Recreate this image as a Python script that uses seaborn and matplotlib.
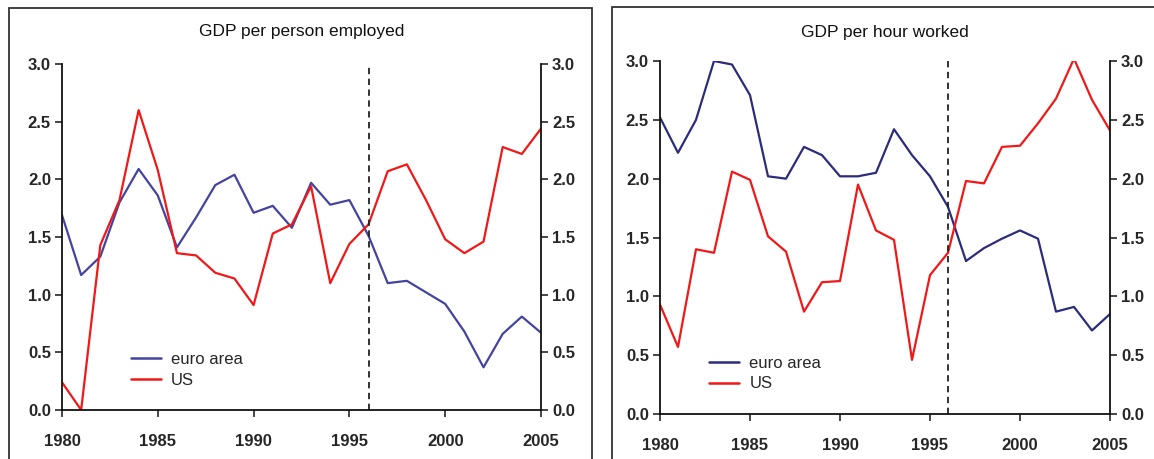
import numpy as np
import pandas as pd
import matplotlib
matplotlib.use("Agg")
import matplotlib.pyplot as plt
import seaborn as sns
from matplotlib.patches import Rectangle

# Annual growth, %
years = list(range(1980, 2006))

person_euro = [1.69, 1.17, 1.33, 1.80, 2.09, 1.86, 1.41, 1.67, 1.95, 2.04,
               1.71, 1.77, 1.58, 1.97, 1.78, 1.82, 1.51, 1.10, 1.12, 1.02,
               0.92, 0.68, 0.37, 0.66, 0.81, 0.67]
person_us = [0.24, 0.00, 1.43, 1.82, 2.60, 2.08, 1.36, 1.34, 1.19, 1.14,
             0.91, 1.53, 1.61, 1.94, 1.10, 1.44, 1.61, 2.07, 2.13, 1.82,
             1.48, 1.36, 1.46, 2.28, 2.22, 2.44]

hour_euro = [2.52, 2.22, 2.50, 3.00, 2.97, 2.71, 2.02, 2.00, 2.27, 2.20,
             2.02, 2.02, 2.05, 2.42, 2.20, 2.02, 1.76, 1.30, 1.41, 1.49,
             1.56, 1.49, 0.87, 0.91, 0.71, 0.85]
hour_us = [0.93, 0.57, 1.40, 1.37, 2.06, 1.99, 1.51, 1.38, 0.87, 1.12,
           1.13, 1.95, 1.56, 1.48, 0.46, 1.18, 1.37, 1.98, 1.96, 2.27,
           2.28, 2.47, 2.68, 3.02, 2.67, 2.41]

series_names = ["euro area", "US"]
panel_titles = ["GDP per person employed", "GDP per hour worked"]
break_year = 1996
y_ticks = [0.0, 0.5, 1.0, 1.5, 2.0, 2.5, 3.0]
x_ticks = [1980, 1985, 1990, 1995, 2000, 2005]

palettes = [
    {"euro area": "#4444a0", "US": "#f01818"},
    {"euro area": "#2c2c7c", "US": "#f01818"},
]

sns.set_style("white")
plt.rcParams["font.family"] = ["Liberation Sans Narrow", "Liberation Sans", "DejaVu Sans"]


def make_frame(euro, us):
    return pd.DataFrame({
        "year": years * 2,
        "value": euro + us,
        "series": ["euro area"] * len(years) + ["US"] * len(years),
    })


fig = plt.figure(figsize=(11.54, 4.59), dpi=100)

# panel frames
fig.add_artist(Rectangle((9 / 1154, -0.05), (592 - 9) / 1154, 1.05 - 8 / 459,
                         transform=fig.transFigure, fill=False, lw=1.3, ec="#333333"))
fig.add_artist(Rectangle((612 / 1154, -0.05), 0.6, 1.05 - 7 / 459,
                         transform=fig.transFigure, fill=False, lw=1.3, ec="#333333"))

axes_pos = [
    [62 / 1154, 1 - 410 / 459, (541 - 62) / 1154, (410 - 64) / 459],
    [660 / 1154, 1 - 414 / 459, (1110 - 660) / 1154, (414 - 61) / 459],
]
title_pads = [20, 17.5]
legend_anchor = [(0.13, 0.045), (0.095, 0.045)]
data = [(person_euro, person_us), (hour_euro, hour_us)]

for pos, title, (euro, us), anchor, pad, pal in zip(axes_pos, panel_titles, data,
                                                      legend_anchor, title_pads, palettes):
    ax = fig.add_axes(pos)
    df = make_frame(euro, us)
    sns.lineplot(data=df, x="year", y="value", hue="series", hue_order=series_names,
                 palette=pal, lw=1.6, ax=ax, legend=False)
    ax.axvline(break_year, color="#222222", lw=1.3, ls=(0, (3.5, 2.5)))

    ax.set_xlim(1980, 2005)
    ax.set_ylim(0, 3.0)
    ax.set_xticks(x_ticks)
    ax.set_yticks(y_ticks)
    ax.set_yticklabels([f"{t:.1f}" for t in y_ticks])
    ax.set_xlabel("")
    ax.set_ylabel("")
    ax.set_title(title, fontsize=12.5, pad=pad, color="#111111")

    for s in ["left", "right", "bottom"]:
        ax.spines[s].set_visible(True)
        ax.spines[s].set_color("#111111")
        ax.spines[s].set_linewidth(1.3)
    ax.spines["top"].set_visible(False)

    ax.tick_params(axis="y", left=True, right=True, labelleft=True, labelright=True,
                   direction="out", length=5, width=1.2, labelsize=12, pad=3)
    ax.tick_params(axis="x", bottom=True, direction="out", length=5, width=1.2,
                   labelsize=12, pad=12)
    for lab in ax.get_xticklabels() + ax.get_yticklabels():
        lab.set_fontweight("bold")
    for lab in ax.yaxis.get_ticklabels(which="major"):
        lab.set_fontweight("bold")

    handles = [plt.Line2D([], [], color=pal[n], lw=1.8) for n in series_names]
    ax.legend(handles, series_names, loc="lower left", bbox_to_anchor=anchor,
              frameon=False, fontsize=12, handlelength=1.8, handletextpad=0.6,
              labelspacing=0.35, borderaxespad=0)

fig.savefig("out.png", dpi=100)
